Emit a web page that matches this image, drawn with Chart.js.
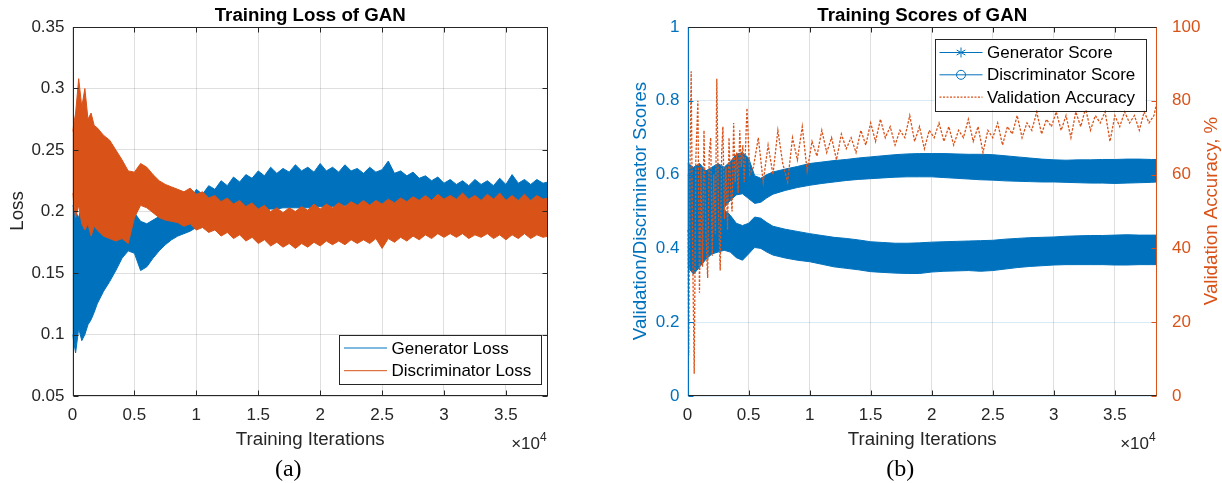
<!DOCTYPE html>
<html lang="en">
<head>
<meta charset="UTF-8">
<title>Training Loss and Scores of GAN</title>
<script src="https://cdn.jsdelivr.net/npm/chart.js"></script>
<style>
  body { margin: 0; background: #fff; }
  #wrap { position: relative; width: 1222px; height: 483px; }
  canvas { position: absolute; top: 0; }
  #lossChart { left: 0; }
  #scoreChart { left: 611px; }
</style>
</head>
<body>
<div id="wrap">
  <canvas id="lossChart" width="611" height="483"></canvas>
  <canvas id="scoreChart" width="611" height="483"></canvas>
</div>
<script>
// ---- panel (a): training loss, upper / lower edge of each noisy trace ----
const lossIter = [0, 250, 500, 750, 1000, 1250, 1500, 1750, 2000, 2500, 3000, 3500, 4000, 4500, 5000, 5500, 6000, 6500, 7000, 7500, 8000,
  8500, 9000, 9500, 10000, 10500, 11000, 11500, 12000, 12500, 13000, 13500, 14000, 14500, 15000, 15500, 16000, 16500, 17000, 17500, 18000,
  18500, 19000, 19500, 20000, 20500, 21000, 21500, 22000, 22500, 23000, 23500, 24000, 24500, 25000, 25500, 26000, 26500, 27000, 27500, 28000,
  28500, 29000, 29500, 30000, 30500, 31000, 31500, 32000, 32500, 33000, 33500, 34000, 34500, 35000, 35500, 36000, 36500, 37000, 37500, 38000,
  38400];
const genLossHi = [0.205, 0.200, 0.195, 0.205, 0.200, 0.190, 0.196, 0.200, 0.195, 0.192, 0.190, 0.192, 0.194, 0.196, 0.199, 0.192, 0.190, 0.193, 0.196, 0.198, 0.200,
  0.205, 0.212, 0.209, 0.218, 0.214, 0.221, 0.218, 0.225, 0.221, 0.228, 0.224, 0.230, 0.227, 0.233, 0.229, 0.236, 0.231, 0.235, 0.232, 0.238,
  0.233, 0.236, 0.232, 0.239, 0.233, 0.236, 0.232, 0.238, 0.233, 0.235, 0.231, 0.236, 0.232, 0.234, 0.241, 0.231, 0.233, 0.229, 0.232, 0.227,
  0.229, 0.225, 0.228, 0.223, 0.226, 0.222, 0.225, 0.221, 0.226, 0.222, 0.225, 0.221, 0.227, 0.222, 0.230, 0.223, 0.226, 0.222, 0.226, 0.223,
  0.224];
const genLossLo = [0.100, 0.085, 0.105, 0.095, 0.100, 0.108, 0.112, 0.118, 0.125, 0.135, 0.143, 0.152, 0.162, 0.168, 0.166, 0.152, 0.155, 0.162, 0.168, 0.173, 0.177,
  0.180, 0.182, 0.184, 0.187, 0.188, 0.190, 0.191, 0.193, 0.194, 0.196, 0.197, 0.198, 0.199, 0.200, 0.201, 0.202, 0.202, 0.203, 0.203, 0.203,
  0.203, 0.203, 0.203, 0.204, 0.204, 0.204, 0.204, 0.205, 0.205, 0.205, 0.205, 0.205, 0.205, 0.206, 0.206, 0.206, 0.206, 0.207, 0.207, 0.207,
  0.207, 0.208, 0.208, 0.208, 0.208, 0.208, 0.208, 0.208, 0.208, 0.208, 0.208, 0.208, 0.208, 0.208, 0.208, 0.208, 0.208, 0.208, 0.208, 0.208,
  0.208];
const discLossHi = [0.265, 0.280, 0.308, 0.285, 0.300, 0.275, 0.280, 0.270, 0.268, 0.262, 0.258, 0.250, 0.242, 0.233, 0.232, 0.239, 0.236, 0.230, 0.225, 0.222, 0.220,
  0.218, 0.216, 0.219, 0.214, 0.216, 0.211, 0.213, 0.208, 0.211, 0.206, 0.209, 0.204, 0.207, 0.202, 0.205, 0.200, 0.203, 0.199, 0.203, 0.200,
  0.204, 0.201, 0.206, 0.202, 0.206, 0.203, 0.207, 0.204, 0.208, 0.205, 0.209, 0.205, 0.209, 0.206, 0.210, 0.207, 0.211, 0.208, 0.212, 0.209,
  0.213, 0.209, 0.214, 0.210, 0.213, 0.210, 0.215, 0.210, 0.213, 0.209, 0.214, 0.210, 0.215, 0.209, 0.213, 0.209, 0.214, 0.209, 0.213, 0.210,
  0.211];
const discLossLo = [0.215, 0.195, 0.205, 0.190, 0.185, 0.190, 0.180, 0.188, 0.185, 0.180, 0.178, 0.176, 0.178, 0.174, 0.195, 0.205, 0.203, 0.199, 0.195, 0.193, 0.192,
  0.191, 0.188, 0.190, 0.185, 0.187, 0.183, 0.185, 0.180, 0.183, 0.178, 0.181, 0.176, 0.179, 0.174, 0.177, 0.172, 0.175, 0.171, 0.174, 0.170,
  0.174, 0.171, 0.175, 0.172, 0.176, 0.173, 0.176, 0.173, 0.177, 0.174, 0.177, 0.174, 0.178, 0.170, 0.178, 0.175, 0.179, 0.176, 0.180, 0.177,
  0.181, 0.178, 0.182, 0.179, 0.182, 0.179, 0.182, 0.178, 0.181, 0.179, 0.182, 0.178, 0.181, 0.177, 0.181, 0.178, 0.182, 0.178, 0.181, 0.179,
  0.180];

// ---- panel (b): training scores ----
const scoreIter = [0, 500, 1000, 1500, 2000, 2500, 3000, 3500, 4000, 4500, 5000, 5500, 6000, 6500, 7000,
  8000, 9000, 10000, 11000, 12000, 13000, 14000, 15000, 16000, 17000, 18000, 19000, 20000, 21000, 22000, 23000,
  24000, 25000, 26000, 27000, 28000, 29000, 30000, 31000, 32000, 33000, 34000, 35000, 36000, 37000, 38000, 38450];
const discScoreHi = [0.630, 0.620, 0.630, 0.610, 0.620, 0.630, 0.620, 0.635, 0.655, 0.660, 0.645, 0.597, 0.590, 0.600, 0.607,
  0.615, 0.622, 0.630, 0.634, 0.638, 0.641, 0.645, 0.648, 0.651, 0.654, 0.656, 0.657, 0.657, 0.657, 0.656, 0.655,
  0.655, 0.654, 0.651, 0.648, 0.645, 0.642, 0.640, 0.639, 0.640, 0.640, 0.641, 0.641, 0.642, 0.642, 0.641, 0.641];
const discScoreLo = [0.450, 0.400, 0.420, 0.450, 0.470, 0.490, 0.510, 0.530, 0.545, 0.548, 0.535, 0.522, 0.525, 0.537, 0.547,
  0.557, 0.565, 0.571, 0.576, 0.580, 0.584, 0.587, 0.589, 0.591, 0.593, 0.594, 0.594, 0.594, 0.592, 0.590, 0.588,
  0.586, 0.585, 0.583, 0.582, 0.581, 0.580, 0.580, 0.579, 0.578, 0.577, 0.577, 0.576, 0.577, 0.578, 0.579, 0.580];
const genScoreHi = [0.600, 0.580, 0.560, 0.550, 0.540, 0.530, 0.505, 0.490, 0.468, 0.462, 0.468, 0.485, 0.482, 0.470, 0.460,
  0.452, 0.446, 0.440, 0.435, 0.430, 0.427, 0.423, 0.418, 0.416, 0.414, 0.414, 0.415, 0.417, 0.418, 0.419, 0.420,
  0.421, 0.422, 0.425, 0.427, 0.429, 0.430, 0.431, 0.433, 0.434, 0.435, 0.435, 0.436, 0.437, 0.436, 0.436, 0.436];
const genScoreLo = [0.350, 0.330, 0.350, 0.370, 0.385, 0.390, 0.395, 0.390, 0.375, 0.368, 0.385, 0.403, 0.400, 0.390, 0.382,
  0.374, 0.368, 0.364, 0.357, 0.350, 0.346, 0.342, 0.337, 0.335, 0.333, 0.332, 0.332, 0.336, 0.338, 0.339, 0.340,
  0.338, 0.340, 0.344, 0.348, 0.351, 0.353, 0.355, 0.356, 0.356, 0.356, 0.356, 0.355, 0.355, 0.356, 0.356, 0.356];

const accIter = [0, 100, 200, 300, 420, 550, 680, 850, 980, 1100, 1230, 1350, 1500, 1650, 1780, 1900, 2030, 2150, 2280, 2400,
  2540, 2680, 2800, 2900, 3030, 3150, 3280, 3400, 3530, 3650, 3780, 3900, 4030, 4150, 4280, 4400, 4530, 4650, 4870, 5100,
  5400, 5800, 6200, 6600, 7000, 7400, 7800, 8200, 8600, 9000, 9400, 9800, 10200, 10600, 11000, 11400, 11800, 12200, 12600, 13000,
  13400, 13800, 14200, 14600, 15000, 15400, 15800, 16200, 16600, 17000, 17400, 17800, 18200, 18600, 19000, 19400, 19800, 20200, 20600, 21000,
  21400, 21800, 22200, 22600, 23000, 23400, 23800, 24200, 24600, 25000, 25400, 25800, 26200, 26600, 27000, 27400, 27800, 28200, 28600, 29000,
  29400, 29800, 30200, 30600, 31000, 31400, 31800, 32200, 32600, 33000, 33400, 33800, 34200, 34600, 35000, 35400, 35800, 36200, 36600, 37000,
  37400, 37800, 38200, 38400];
const accVal = [45, 11, 62, 88, 40, 6, 64, 80, 28, 62, 35, 72, 45, 32, 66, 70, 38, 60, 44, 86,
  50, 34, 66, 73, 48, 62, 45, 70, 56, 50, 74, 58, 66, 55, 72, 62, 68, 58, 78, 60,
  62, 70, 58, 68, 60, 72, 63, 58, 70, 64, 73, 61, 69, 65, 72, 66, 70, 64, 71, 67,
  70, 66, 72, 68, 74, 69, 75, 70, 73, 68, 72, 70, 76, 69, 73, 67, 72, 70, 74, 69,
  73, 68, 72, 70, 75, 69, 73, 66, 72, 70, 74, 68, 73, 71, 76, 70, 74, 72, 77, 71,
  75, 73, 77, 72, 76, 70, 77, 73, 78, 72, 76, 74, 77, 69, 76, 73, 77, 74, 76, 72,
  77, 74, 76, 79];

// ---- ticks ----
const xTicks = [0, 5000, 10000, 15000, 20000, 25000, 30000, 35000];
const xTickLabels = ['0', '0.5', '1', '1.5', '2', '2.5', '3', '3.5'];
const lossTicks = [0.05, 0.1, 0.15, 0.2, 0.25, 0.3, 0.35];
const lossTickLabels = ['0.05', '0.1', '0.15', '0.2', '0.25', '0.3', '0.35'];
const scoreTicks = [0, 0.2, 0.4, 0.6, 0.8, 1];
const scoreTickLabels = ['0', '0.2', '0.4', '0.6', '0.8', '1'];
const accTicks = [0, 20, 40, 60, 80, 100];
const accTickLabels = ['0', '20', '40', '60', '80', '100'];

const BLUE = '#0072BD', ORANGE = '#D95319', DARK = '#262626';
const SANS = '"Liberation Sans", Arial, sans-serif';
const pts = (xs, ys) => xs.map((x, i) => ({ x: x, y: ys[i] }));
const setTicks = arr => s => { s.ticks = arr.map(v => ({ value: v })); };

// frame, inward ticks, titles and legend drawn on top of the library's scales
const decor = {
  id: 'decor',
  afterDraw(chart, args, o) {
    const ctx = chart.ctx, a = chart.chartArea, sx = chart.scales.x;
    const yl = chart.scales.y, yr = chart.scales.y2 || chart.scales.y;
    const L = Math.round(a.left) + 0.5, R = Math.round(a.right) - 0.5;
    const T = Math.round(a.top) + 0.5, B = Math.round(a.bottom) - 0.5;
    ctx.save();
    ctx.lineWidth = 1;
    const line = (x1, y1, x2, y2, c) => {
      ctx.strokeStyle = c; ctx.beginPath(); ctx.moveTo(x1, y1); ctx.lineTo(x2, y2); ctx.stroke();
    };
    const tl = 5;
    sx.ticks.forEach(t => {
      const p = Math.round(sx.getPixelForValue(t.value)) + 0.5;
      line(p, B, p, B - tl, DARK); line(p, T, p, T + tl, DARK);
    });
    yl.ticks.forEach(t => {
      const p = Math.round(yl.getPixelForValue(t.value)) + 0.5;
      line(L, p, L + tl, p, o.leftColor);
    });
    yr.ticks.forEach(t => {
      const p = Math.round(yr.getPixelForValue(t.value)) + 0.5;
      line(R, p, R - tl, p, o.rightColor);
    });
    line(L - 0.5, T, R + 0.5, T, DARK); line(L - 0.5, B, R + 0.5, B, DARK);
    line(L, T, L, B, o.leftColor); line(R, T, R, B, o.rightColor);

    const text = (s, x, y, font, color, align, rot) => {
      ctx.save();
      ctx.font = font; ctx.fillStyle = color; ctx.textAlign = align || 'center'; ctx.textBaseline = 'alphabetic';
      ctx.translate(x, y);
      if (rot) ctx.rotate(rot);
      ctx.fillText(s, 0, 0);
      ctx.restore();
    };
    const cx = (a.left + a.right) / 2;
    text(o.title, cx, 21, 'bold 18.7px ' + SANS, '#000');
    text('Training Iterations', cx, 445, '18.7px ' + SANS, DARK);
    ctx.font = '17px ' + SANS;
    const w10 = ctx.measureText('\u00d710').width;
    text('\u00d710', a.right - w10 - 8, 449, '17px ' + SANS, DARK, 'left');
    text('4', a.right - 8, 441, '12px ' + SANS, DARK, 'left');
    text(o.letter, cx - 22, 476, '24px "Liberation Serif", "Times New Roman", serif', '#000');
    o.yTitles.forEach(t => text(t.text, t.x, 211, '18.7px ' + SANS, t.color, 'center', -Math.PI / 2));

    // legend
    const g = o.legend;
    ctx.fillStyle = '#fff';
    ctx.fillRect(g.x, g.y, g.w, g.h);
    ctx.strokeStyle = DARK;
    ctx.strokeRect(Math.round(g.x) + 0.5, Math.round(g.y) + 0.5, Math.round(g.w), Math.round(g.h));
    g.items.forEach((it, i) => {
      const y = g.y + g.first + i * g.step;
      ctx.save();
      ctx.strokeStyle = it.color; ctx.lineWidth = it.dash ? 1.3 : 1;
      ctx.setLineDash(it.dash || []);
      ctx.beginPath(); ctx.moveTo(g.x + 5, y); ctx.lineTo(g.x + 48, y); ctx.stroke();
      ctx.setLineDash([]);
      const mx = g.x + 26.5;
      if (it.marker === 'circle') {
        ctx.beginPath(); ctx.arc(mx, y, 4.5, 0, Math.PI * 2); ctx.stroke();
      } else if (it.marker === 'star') {
        [90, 30, 150].forEach(d => {
          const r = d * Math.PI / 180, dx = Math.cos(r) * 5, dy = Math.sin(r) * 5;
          ctx.beginPath(); ctx.moveTo(mx - dx, y - dy); ctx.lineTo(mx + dx, y + dy); ctx.stroke();
        });
      }
      ctx.restore();
      ctx.font = '17px ' + SANS; ctx.fillStyle = '#000'; ctx.textAlign = 'left'; ctx.textBaseline = 'middle';
      ctx.fillText(it.text, g.x + 52.5, y + 1);
    });
    ctx.restore();
  }
};

const xScale = max => ({
  type: 'linear', min: 0, max: max,
  afterBuildTicks: setTicks(xTicks),
  afterFit: s => { s.height = 87; },
  grid: { color: 'rgba(38,38,38,0.15)', drawTicks: false },
  border: { display: false },
  ticks: { callback: (v, i) => xTickLabels[i], color: DARK, font: { family: SANS, size: 17 }, padding: 9, maxRotation: 0 }
});

new Chart(document.getElementById('lossChart'), {
  type: 'line',
  data: {
    datasets: [
      { label: 'Discriminator Loss top', data: pts(lossIter, discLossHi), borderColor: ORANGE, borderWidth: 1, fill: false },
      { label: 'Discriminator Loss', data: pts(lossIter, discLossLo), borderColor: ORANGE, backgroundColor: ORANGE, borderWidth: 1, fill: '-1' },
      { label: 'Generator Loss top', data: pts(lossIter, genLossHi), borderColor: BLUE, borderWidth: 1, fill: false },
      { label: 'Generator Loss', data: pts(lossIter, genLossLo), borderColor: BLUE, backgroundColor: BLUE, borderWidth: 1, fill: '-1' }
    ]
  },
  options: {
    responsive: false, animation: false, devicePixelRatio: 1,
    elements: { point: { radius: 0 }, line: { tension: 0 } },
    layout: { padding: { left: 0, right: 63, top: 27, bottom: 0 } },
    scales: {
      x: xScale(38400),
      y: {
        min: 0.05, max: 0.35,
        afterBuildTicks: setTicks(lossTicks),
        afterFit: s => { s.width = 72.5; },
        grid: { color: 'rgba(38,38,38,0.15)', drawTicks: false },
        border: { display: false },
        ticks: { callback: (v, i) => lossTickLabels[i], color: DARK, font: { family: SANS, size: 17 }, padding: 8 }
      }
    },
    plugins: {
      legend: { display: false }, tooltip: { enabled: false },
      decor: {
        title: 'Training Loss of GAN', letter: '(a)', leftColor: DARK, rightColor: DARK,
        yTitles: [{ text: 'Loss', x: 23, color: DARK }],
        legend: {
          x: 339, y: 335, w: 202, h: 49, first: 13, step: 22.7,
          items: [
            { text: 'Generator Loss', color: BLUE },
            { text: 'Discriminator Loss', color: ORANGE }
          ]
        }
      }
    }
  },
  plugins: [decor]
});

new Chart(document.getElementById('scoreChart'), {
  type: 'line',
  data: {
    datasets: [
      { label: 'Validation Accuracy', data: pts(accIter, accVal), yAxisID: 'y2', borderColor: ORANGE, borderWidth: 1.3, borderDash: [2.5, 1.5], fill: false },
      { label: 'Discriminator Score top', data: pts(scoreIter, discScoreHi), borderColor: BLUE, borderWidth: 1, fill: false },
      { label: 'Discriminator Score', data: pts(scoreIter, discScoreLo), borderColor: BLUE, backgroundColor: BLUE, borderWidth: 1, fill: '-1' },
      { label: 'Generator Score top', data: pts(scoreIter, genScoreHi), borderColor: BLUE, borderWidth: 1, fill: false },
      { label: 'Generator Score', data: pts(scoreIter, genScoreLo), borderColor: BLUE, backgroundColor: BLUE, borderWidth: 1, fill: '-1' }
    ]
  },
  options: {
    responsive: false, animation: false, devicePixelRatio: 1,
    elements: { point: { radius: 0 }, line: { tension: 0 } },
    layout: { padding: { left: 0, right: 0, top: 27, bottom: 0 } },
    scales: {
      x: xScale(38450),
      y: {
        position: 'left', min: 0, max: 1,
        afterBuildTicks: setTicks(scoreTicks),
        afterFit: s => { s.width = 76.5; },
        grid: { color: 'rgba(0,114,189,0.15)', drawTicks: false },
        border: { display: false },
        ticks: { callback: (v, i) => scoreTickLabels[i], color: BLUE, font: { family: SANS, size: 17 }, padding: 8 }
      },
      y2: {
        position: 'right', min: 0, max: 100,
        afterBuildTicks: setTicks(accTicks),
        afterFit: s => { s.width = 65; },
        grid: { display: false },
        border: { display: false },
        ticks: { callback: (v, i) => accTickLabels[i], color: ORANGE, font: { family: SANS, size: 17 }, padding: 7 }
      }
    },
    plugins: {
      legend: { display: false }, tooltip: { enabled: false },
      decor: {
        title: 'Training Scores of GAN', letter: '(b)', leftColor: BLUE, rightColor: ORANGE,
        yTitles: [
          { text: 'Validation/Discriminator Scores', x: 35, color: BLUE },
          { text: 'Validation Accuracy, %', x: 606, color: ORANGE }
        ],
        legend: {
          x: 323.5, y: 38.5, w: 211, h: 71.5, first: 14, step: 22.3,
          items: [
            { text: 'Generator Score', color: BLUE, marker: 'star' },
            { text: 'Discriminator Score', color: BLUE, marker: 'circle' },
            { text: 'Validation Accuracy', color: ORANGE, dash: [2, 1.5] }
          ]
        }
      }
    }
  },
  plugins: [decor]
});
</script>
</body>
</html>
